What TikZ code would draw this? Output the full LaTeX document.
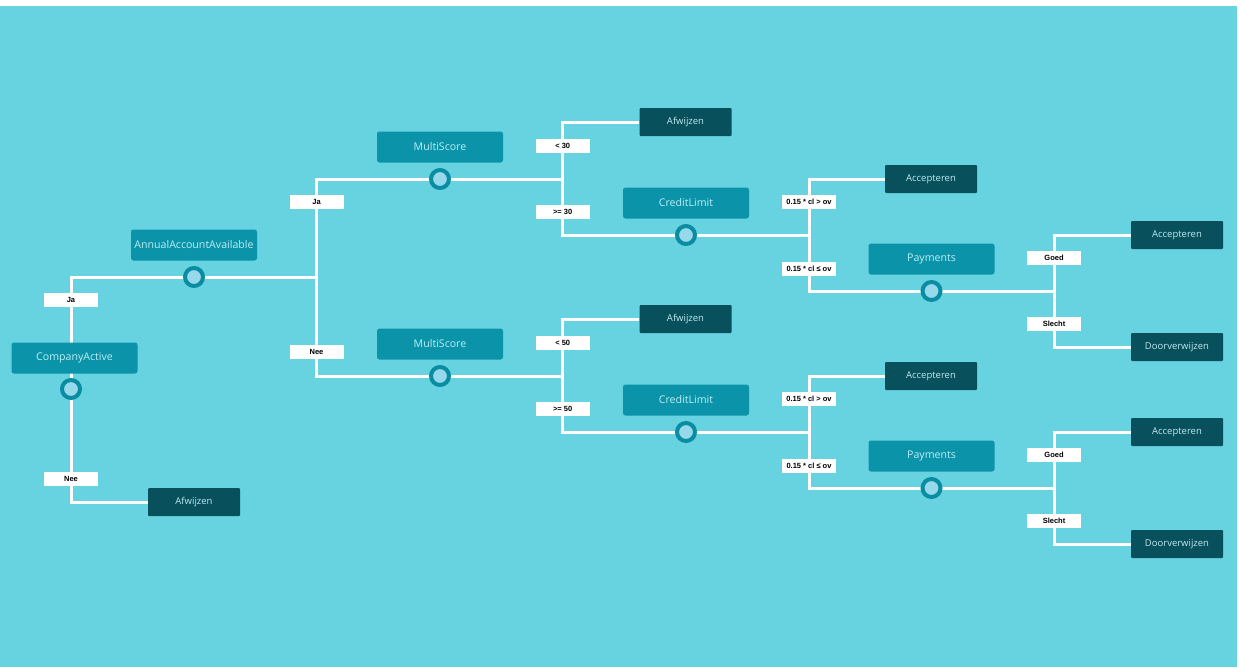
\documentclass[tikz,border=0pt]{standalone}
\usepackage{fontspec}
\setmainfont{Open Sans}
\newfontfamily\lblfont{Liberation Sans}
\definecolor{bgc}{HTML}{68D3E0}
\definecolor{dec}{HTML}{0B93A9}
\definecolor{dectext}{HTML}{BDEFF5}
\definecolor{leaf}{HTML}{07505C}
\definecolor{leaftext}{HTML}{C0EAF0}
\definecolor{ring}{HTML}{0A8DA2}
\definecolor{ringfill}{HTML}{95D9EA}
\pgfdeclarelayer{wires}
\pgfsetlayers{wires,main}
\tikzset{
  decbox/.style={fill=dec, rounded corners=2.5pt, minimum width=126pt, minimum height=31pt, inner sep=0pt, text=dectext, font=\fontsize{10.6}{12}\selectfont},
  leafbox/.style={fill=leaf, rounded corners=1pt, minimum width=92pt, minimum height=28pt, inner sep=0pt, text=leaftext, font=\fontsize{9.5}{11}\selectfont},
  port/.style={circle, draw=ring, line width=4pt, fill=ringfill, minimum size=18pt, inner sep=0pt},
  lbl/.style={fill=white, minimum width=54pt, minimum height=14pt, inner sep=1pt, text=black, font=\lblfont\bfseries\fontsize{7.5}{9}\selectfont},
  wire/.style={draw=white, line width=3pt}
}
\begin{document}
\begin{tikzpicture}[x=1pt,y=-1pt]
\useasboundingbox (0,0) rectangle (1240,667);
\begin{pgfonlayer}{wires}
  \fill[white] (0,0) rectangle (1240,667);
  \fill[bgc] (0,6) rectangle (1237,667);
\end{pgfonlayer}
% root part
\node[decbox] (ca) at (74.5,358) {CompanyActive};
\node[port] (cac) at (71,389) {};
\node[leafbox] (rej0) at (194,502) {Afwijzen};
\node[decbox] (aaa) at (194,245) {AnnualAccountAvailable};
\node[port] (aaac) at (194,277) {};
\node[lbl] (ja0) at (71,300) {Ja};
\node[lbl] (nee0) at (71,479) {Nee};
\coordinate (j1) at (316.5,277);
\node[lbl] (ja1) at (316.5,202) {Ja};
\node[lbl] (nee1) at (316.5,352) {Nee};
\begin{pgfonlayer}{wires}
  \draw[wire] (cac.center) |- (aaac.center);
  \draw[wire] (cac.center) |- (rej0.west);
  \draw[wire] (aaac.center) -- (j1);
\end{pgfonlayer}
\foreach \s/\d/\t in {A/0/30,B/197/50}{
  \node[decbox] (ms\s) at (440,{147+\d}) {MultiScore};
  \node[port] (ms\s-c) at (440,{179+\d}) {};
  \coordinate (jb\s) at (562.7,{179+\d});
  \node[leafbox] (rej\s) at (685.5,{122+\d}) {Afwijzen};
  \node[decbox] (cl\s) at (686,{203+\d}) {CreditLimit};
  \node[port] (cl\s-c) at (686,{235+\d}) {};
  \node[lbl] (lt\s) at (562.7,{146+\d}) {< \t};
  \node[lbl] (ge\s) at (562.7,{212+\d}) {>= \t};
  \coordinate (jc\s) at (809,{235+\d});
  \node[leafbox] (acc\s) at (931,{179+\d}) {Accepteren};
  \node[decbox] (pay\s) at (931.5,{259+\d}) {Payments};
  \node[port] (pay\s-c) at (931.5,{291+\d}) {};
  \node[lbl] (gt\s) at (809,{202+\d}) {0.15 * cl > ov};
  \node[lbl] (le\s) at (809,{269+\d}) {0.15 * cl ≤ ov};
  \coordinate (jd\s) at (1054,{291+\d});
  \node[leafbox] (accb\s) at (1177,{235+\d}) {Accepteren};
  \node[leafbox] (door\s) at (1177,{347+\d}) {Doorverwijzen};
  \node[lbl] (goed\s) at (1054,{258+\d}) {Goed};
  \node[lbl] (slecht\s) at (1054,{324+\d}) {Slecht};
  \begin{pgfonlayer}{wires}
    \draw[wire] (j1) |- (ms\s-c.center);
    \draw[wire] (ms\s-c.center) -- (jb\s);
    \draw[wire] (jb\s) |- (rej\s.west);
    \draw[wire] (jb\s) |- (cl\s-c.center);
    \draw[wire] (cl\s-c.center) -- (jc\s);
    \draw[wire] (jc\s) |- (acc\s.west);
    \draw[wire] (jc\s) |- (pay\s-c.center);
    \draw[wire] (pay\s-c.center) -- (jd\s);
    \draw[wire] (jd\s) |- (accb\s.west);
    \draw[wire] (jd\s) |- (door\s.west);
  \end{pgfonlayer}
}
\end{tikzpicture}
\end{document}
